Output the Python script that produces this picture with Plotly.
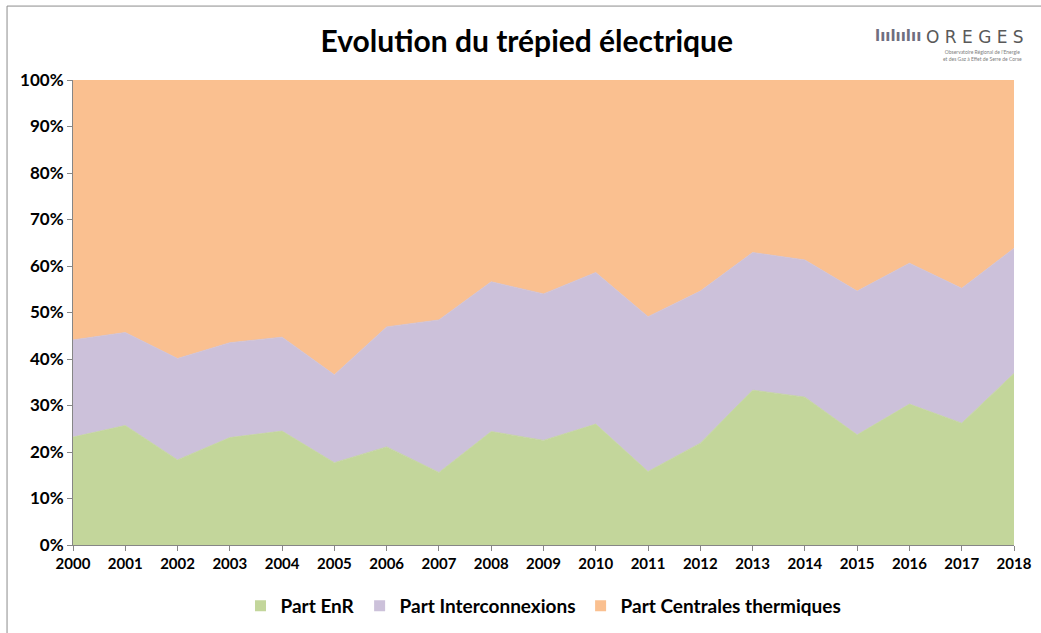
import plotly.graph_objects as go

years = [str(y) for y in range(2000, 2019)]
enr = [23.2, 25.7, 18.3, 23.1, 24.5, 17.7, 21.1, 15.6, 24.4, 22.5, 26.0, 15.8, 21.9, 33.3, 31.8, 23.7, 30.3, 26.2, 36.9]
cumul_top = [44.1, 45.7, 40.1, 43.5, 44.7, 36.6, 46.9, 48.4, 56.6, 54.0, 58.6, 49.1, 54.6, 62.9, 61.3, 54.6, 60.6, 55.2, 63.8]
interco = [round(t - e, 1) for t, e in zip(cumul_top, enr)]
thermique = [round(100 - t, 1) for t in cumul_top]

series = [
    ("Part EnR", enr, "#C3D69B"),
    ("Part Interconnexions", interco, "#CCC1DA"),
    ("Part Centrales thermiques", thermique, "#FAC090"),
]

fig = go.Figure()
for name, vals, col in series:
    fig.add_trace(go.Scatter(
        x=years, y=vals, name=name, stackgroup="one", groupnorm="percent",
        mode="lines", line=dict(width=0.8, color=col), fillcolor=col, showlegend=False,
    ))
# legend entries with small square keys
for name, vals, col in series:
    fig.add_trace(go.Scatter(
        x=[None], y=[None], name=f"<b>{name}</b>", mode="markers",
        marker=dict(symbol="square", size=11, color=col), showlegend=True,
    ))

font = "Lato, 'Open Sans', sans-serif"
fig.update_layout(
    width=1041, height=633,
    paper_bgcolor="white", plot_bgcolor="white",
    margin=dict(l=73, r=27, t=80, b=88, autoexpand=False),
    title=dict(text="<b>Evolution du trépied électrique</b>", x=0.506, xanchor="center",
               y=0.934, yanchor="middle", font=dict(family=font, size=30, color="#000000")),
    font=dict(family=font, color="#000000"),
    showlegend=True,
    legend=dict(orientation="h", x=0.5, xanchor="center", y=-0.09, yanchor="top",
                font=dict(family=font, size=19, color="#000000"), traceorder="normal",
                itemwidth=30, entrywidth=0),
    xaxis=dict(
        type="category", range=[0, 18], showgrid=False, showline=True, automargin=False,
        linecolor="#868686", linewidth=1, ticks="outside", ticklen=5, tickcolor="#868686",
        tickfont=dict(family=font, size=15, color="#000000"), tickprefix="<b>", ticksuffix="</b>",
        zeroline=False,
    ),
    yaxis=dict(
        range=[0, 100], tickvals=list(range(0, 101, 10)), automargin=False,
        ticktext=[f"<b>{v}%</b>" for v in range(0, 101, 10)],
        showgrid=False, showline=True, linecolor="#868686", linewidth=1,
        ticks="outside", ticklen=5, tickcolor="#868686",
        tickfont=dict(family=font, size=17, color="#000000"), zeroline=False,
    ),
)

# outer frame of the chart
fig.add_shape(type="rect", xref="paper", yref="paper", x0=-0.0701, x1=1.04, y0=-0.21, y1=1.159,
              line=dict(color="#8C8C8C", width=1), layer="below")

# logo
fig.add_annotation(xref="paper", yref="paper", x=1.013, y=1.092, xanchor="right", yanchor="middle",
                   text="O R E G E S", showarrow=False,
                   font=dict(family="'DejaVu Sans', sans-serif", size=17, color="#595959"))
fig.add_annotation(xref="paper", yref="paper", x=0.903, y=1.095, xanchor="right", yanchor="middle",
                   text="<b>lıılıılıı</b>", showarrow=False,
                   font=dict(family="'DejaVu Sans', sans-serif", size=15, color="#6F6F7F"))
fig.add_annotation(xref="paper", yref="paper", x=0.966, y=1.052, xanchor="center", yanchor="middle",
                   text="Observatoire Régional de l'Energie<br>et des Gaz à Effet de Serre de Corse",
                   showarrow=False, font=dict(family=font, size=5, color="#808080"))

fig.write_html("out.html", config={"displayModeBar": False},
               post_script="document.body.style.margin='0';")
